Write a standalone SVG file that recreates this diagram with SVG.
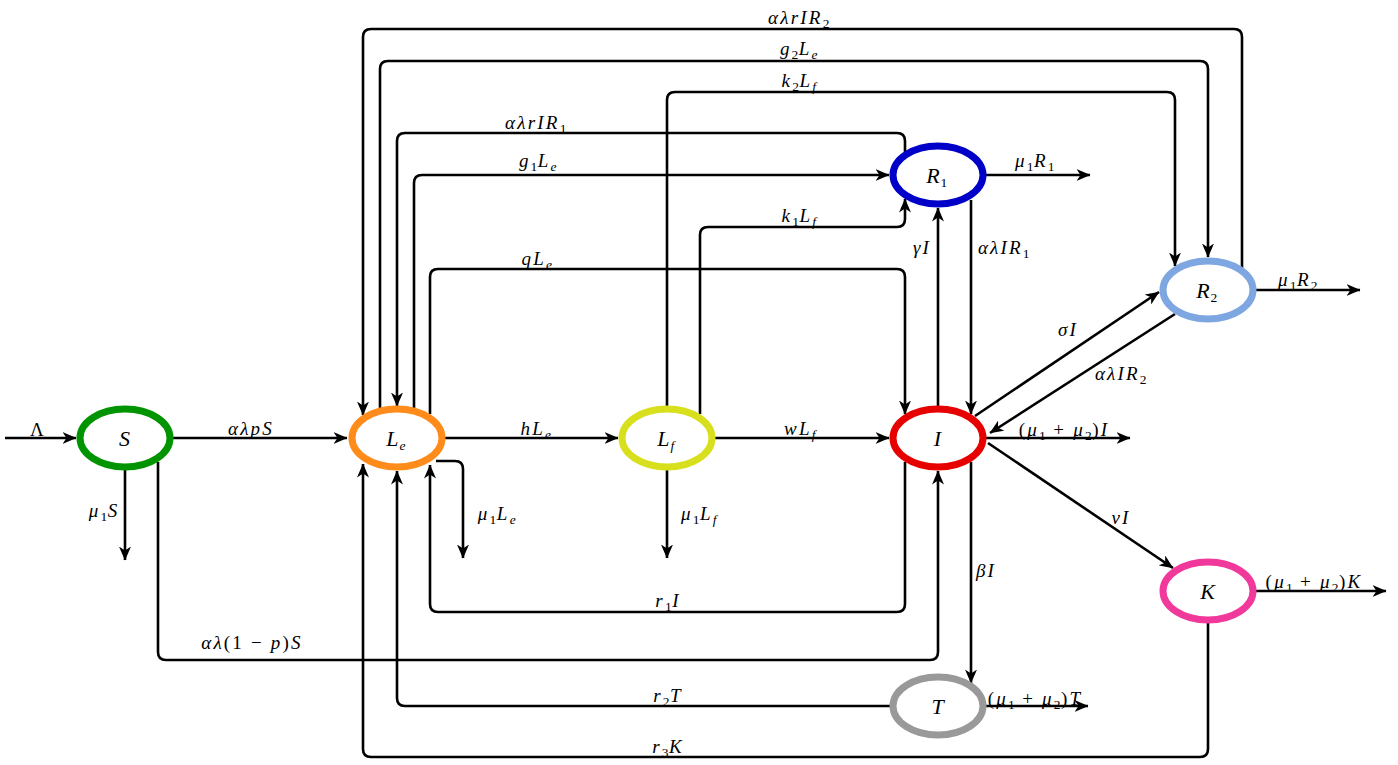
<svg xmlns="http://www.w3.org/2000/svg" width="1398" height="765" viewBox="0 0 1398 765">
<defs>
<marker id="arr" viewBox="0 0 14 12" markerWidth="14" markerHeight="12" refX="13.5" refY="6" orient="auto" markerUnits="userSpaceOnUse">
<path d="M0,0 L14,6 L0,12 L4,6 Z" fill="#000"/>
</marker>
</defs>
<style>
.e{fill:none;stroke:#000;stroke-width:2.6;marker-end:url(#arr)}
.n{fill:#fff;stroke-width:7}
.m{font-family:"Liberation Serif","DejaVu Serif",serif;font-style:italic;font-size:19px;letter-spacing:2.2px;text-anchor:middle;fill:#000}
.nl{font-family:"Liberation Serif","DejaVu Serif",serif;font-style:italic;font-size:22px;letter-spacing:1px;text-anchor:middle;fill:#000}
.u{font-style:normal}
.sb{font-size:13.5px;letter-spacing:0.5px}
</style>
<rect width="1398" height="765" fill="#fff"/>
<g id="connectors">
<path class="e" d="M5,438 H76"/>
<path class="e" d="M170,438 H347"/>
<path class="e" d="M125,468 V560"/>
<path class="e" d="M158,462 V652 Q158,660 166,660 H930 Q938,660 938,652 V471"/>
<path class="e" d="M442,438 H618"/>
<path class="e" d="M712,438 H889"/>
<path class="e" d="M436,461 H455 Q463,461 463,469 V558"/>
<path class="e" d="M667,468 V558"/>
<path class="e" d="M414,412 V183 Q414,175 422,175 H889"/>
<path class="e" d="M905,152 V141 Q905,133 897,133 H405 Q397,133 397,141 V406"/>
<path class="e" d="M380,412 V69 Q380,61 388,61 H1200 Q1208,61 1208,69 V257"/>
<path class="e" d="M1242,270 V37 Q1242,29 1234,29 H371 Q363,29 363,37 V415"/>
<path class="e" d="M667,408 V100 Q667,92 675,92 H1167 Q1175,92 1175,100 V266"/>
<path class="e" d="M700,414 V235 Q700,227 708,227 H897 Q905,227 905,219 V199"/>
<path class="e" d="M430,414 V277 Q430,269 438,269 H897 Q905,269 905,277 V414"/>
<path class="e" d="M938,408 V208"/>
<path class="e" d="M971,200 V414"/>
<path class="e" d="M975,416 L1159,292"/>
<path class="e" d="M1175,314 L990,433"/>
<path class="e" d="M986,438 H1130"/>
<path class="e" d="M988,443 L1173,568"/>
<path class="e" d="M1255,591 H1386"/>
<path class="e" d="M985,175 H1090"/>
<path class="e" d="M1255,290 H1360"/>
<path class="e" d="M905,462 V604 Q905,612 897,612 H438 Q430,612 430,604 V465"/>
<path class="e" d="M971,462 V683"/>
<path class="e" d="M890,706 H405 Q397,706 397,698 V471"/>
<path class="e" d="M1208,620 V749 Q1208,757 1200,757 H371 Q363,757 363,749 V464"/>
<path class="e" d="M986,706 H1088"/>
</g>
<g id="edge-labels">
<text class="m" x="38" y="436"><tspan class="u">Λ</tspan></text>
<text class="m" x="251" y="435">αλpS</text>
<text class="m" x="104" y="517">μ<tspan class="sb u" dy="4">1</tspan><tspan dy="-4">S</tspan></text>
<text class="m" x="252" y="649">αλ<tspan class="u">(1 − </tspan>p<tspan class="u">)</tspan>S</text>
<text class="m" x="536" y="435">h<tspan>L</tspan><tspan class="sb" dy="4">e</tspan></text>
<text class="m" x="800" y="435">w<tspan>L</tspan><tspan class="sb" dy="4">f</tspan></text>
<text class="m" x="497" y="520">μ<tspan class="sb u" dy="4">1</tspan><tspan dy="-4">L</tspan><tspan class="sb" dy="4">e</tspan></text>
<text class="m" x="699" y="520">μ<tspan class="sb u" dy="4">1</tspan><tspan dy="-4">L</tspan><tspan class="sb" dy="4">f</tspan></text>
<text class="m" x="799" y="24">αλrIR<tspan class="sb u" dy="4">2</tspan></text>
<text class="m" x="799" y="55">g<tspan class="sb u" dy="4">2</tspan><tspan dy="-4">L</tspan><tspan class="sb" dy="4">e</tspan></text>
<text class="m" x="799" y="87">k<tspan class="sb u" dy="4">2</tspan><tspan dy="-4">L</tspan><tspan class="sb" dy="4">f</tspan></text>
<text class="m" x="536" y="129">αλrIR<tspan class="sb u" dy="4">1</tspan></text>
<text class="m" x="538" y="167">g<tspan class="sb u" dy="4">1</tspan><tspan dy="-4">L</tspan><tspan class="sb" dy="4">e</tspan></text>
<text class="m" x="799" y="222">k<tspan class="sb u" dy="4">1</tspan><tspan dy="-4">L</tspan><tspan class="sb" dy="4">f</tspan></text>
<text class="m" x="537" y="265">q<tspan>L</tspan><tspan class="sb" dy="4">e</tspan></text>
<text class="m" x="922" y="254">γI</text>
<text class="m" x="1004" y="254">αλIR<tspan class="sb u" dy="4">1</tspan></text>
<text class="m" x="1035" y="167">μ<tspan class="sb u" dy="4">1</tspan><tspan dy="-4">R</tspan><tspan class="sb u" dy="4">1</tspan></text>
<text class="m" x="1298" y="286">μ<tspan class="sb u" dy="4">1</tspan><tspan dy="-4">R</tspan><tspan class="sb u" dy="4">2</tspan></text>
<text class="m" x="1068" y="336">σI</text>
<text class="m" x="1121" y="380">αλIR<tspan class="sb u" dy="4">2</tspan></text>
<text class="m" x="1064" y="436"><tspan class="u">(</tspan>μ<tspan class="sb u" dy="4">1</tspan><tspan class="u" dy="-4"> + </tspan>μ<tspan class="sb u" dy="4">2</tspan><tspan class="u" dy="-4">)</tspan>I</text>
<text class="m" x="1121" y="524">vI</text>
<text class="m" x="986" y="577">βI</text>
<text class="m" x="1314" y="588"><tspan class="u">(</tspan>μ<tspan class="sb u" dy="4">1</tspan><tspan class="u" dy="-4"> + </tspan>μ<tspan class="sb u" dy="4">2</tspan><tspan class="u" dy="-4">)</tspan>K</text>
<text class="m" x="1035" y="705"><tspan class="u">(</tspan>μ<tspan class="sb u" dy="4">1</tspan><tspan class="u" dy="-4"> + </tspan>μ<tspan class="sb u" dy="4">2</tspan><tspan class="u" dy="-4">)</tspan>T</text>
<text class="m" x="668" y="607">r<tspan class="sb u" dy="4">1</tspan><tspan dy="-4">I</tspan></text>
<text class="m" x="668" y="702">r<tspan class="sb u" dy="4">2</tspan><tspan dy="-4">T</tspan></text>
<text class="m" x="668" y="753">r<tspan class="sb u" dy="4">3</tspan><tspan dy="-4">K</tspan></text>
</g>
<g id="node-S"><ellipse class="n" cx="125" cy="438" rx="45" ry="29" stroke="#009400"/><text class="nl" x="125" y="446">S</text></g>
<g id="node-Le"><ellipse class="n" cx="397" cy="438" rx="45" ry="29" stroke="#FF8C1A"/><text class="nl" x="396" y="446">L<tspan class="sb" dy="4">e</tspan></text></g>
<g id="node-Lf"><ellipse class="n" cx="667" cy="438" rx="45" ry="29" stroke="#D8E01E"/><text class="nl" x="666" y="446">L<tspan class="sb" dy="4">f</tspan></text></g>
<g id="node-I"><ellipse class="n" cx="938" cy="438" rx="45" ry="29" stroke="#E60000"/><text class="nl" x="938" y="446">I</text></g>
<g id="node-R1"><ellipse class="n" cx="938" cy="175" rx="45" ry="29" stroke="#0000C8"/><text class="nl" x="937" y="183">R<tspan class="sb u" dy="4">1</tspan></text></g>
<g id="node-R2"><ellipse class="n" cx="1208" cy="290" rx="45" ry="29" stroke="#7EA6E0"/><text class="nl" x="1207" y="298">R<tspan class="sb u" dy="4">2</tspan></text></g>
<g id="node-K"><ellipse class="n" cx="1208" cy="591" rx="45" ry="29" stroke="#F0399A"/><text class="nl" x="1208" y="599">K</text></g>
<g id="node-T"><ellipse class="n" cx="938" cy="706" rx="45" ry="29" stroke="#999999"/><text class="nl" x="938" y="714">T</text></g>
</svg>
